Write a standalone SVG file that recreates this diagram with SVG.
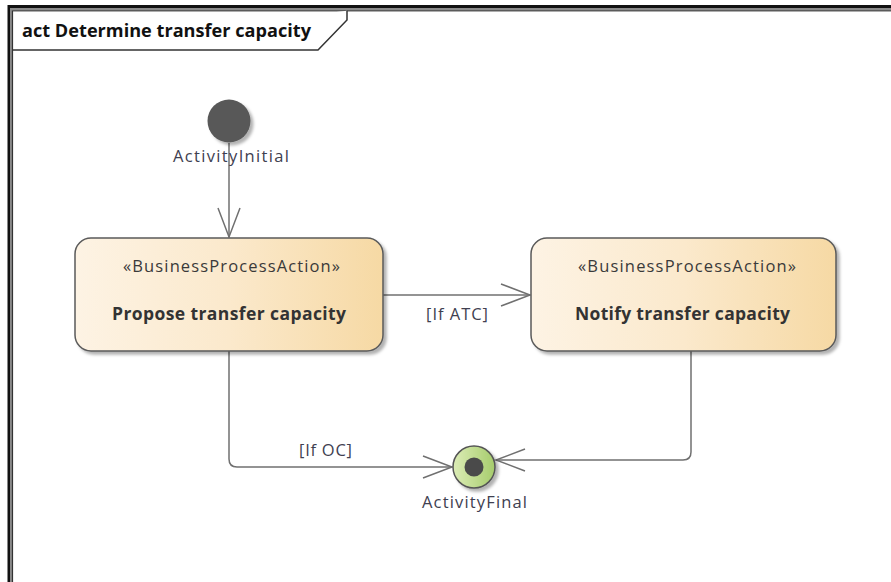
<svg xmlns="http://www.w3.org/2000/svg" width="891" height="582" viewBox="0 0 891 582">
<style>
.frame-outer{fill:none;stroke:#111;stroke-width:3}
.frame-mid{fill:none;stroke:#8a8a8a;stroke-width:2}
.frame-inner{fill:none;stroke:#333;stroke-width:1.2}
.title{font-family:"Open Sans","Liberation Sans",sans-serif;font-weight:bold;font-size:17.5px;fill:#111}
.action{fill:url(#actGrad);stroke:#5a5a5a;stroke-width:1.5;filter:url(#shadow)}
.stereo{font-family:"Open Sans","Liberation Sans",sans-serif;font-size:16.5px;fill:#3a3a3a}
.aname{font-family:"Open Sans","Liberation Sans",sans-serif;font-weight:bold;font-size:17.5px;fill:#333}
.label{font-family:"Open Sans","Liberation Sans",sans-serif;font-size:16.5px;fill:#404050}
.edge{fill:none;stroke:#707070;stroke-width:1.5}
</style>
<defs>
<linearGradient id="actGrad" x1="0" y1="0" x2="1" y2="0">
<stop offset="0" stop-color="#fdf3e4"/>
<stop offset="0.5" stop-color="#fbe9cc"/>
<stop offset="1" stop-color="#f6d9a4"/>
</linearGradient>
<linearGradient id="finGrad" x1="0" y1="0" x2="1" y2="0">
<stop offset="0" stop-color="#dcecb6"/>
<stop offset="1" stop-color="#a6cc6c"/>
</linearGradient>
<filter id="shadow" x="-10%" y="-10%" width="125%" height="130%">
<feDropShadow dx="3" dy="3" stdDeviation="1.5" flood-color="#000" flood-opacity="0.3"/>
</filter>
<marker id="open" markerUnits="userSpaceOnUse" markerWidth="34" markerHeight="28" refX="30" refY="12" orient="auto">
<path d="M1,1 L30,12 L1,23" fill="none" stroke="#707070" stroke-width="1.5"/>
</marker>
</defs>

<g id="frame">
<rect class="frame-outer" x="9" y="6.5" width="900" height="600"/>
<rect class="frame-mid" x="11" y="9" width="900" height="600"/>
<rect class="frame-inner" x="12.5" y="10.8" width="900" height="600"/>
<path d="M12.5,50 L318,50 L347,20 L347,10.8" fill="#fff" stroke="#333" stroke-width="1.5"/>
<text class="title" x="22" y="37" textLength="289" lengthAdjust="spacingAndGlyphs">act Determine transfer capacity</text>
</g>

<g id="connectors">
<path class="edge" d="M229,143 L229,237" marker-end="url(#open)"/>
<path class="edge" d="M383,295 L530,295" marker-end="url(#open)"/>
<path class="edge" d="M229,351 L229,459 Q229,467 237,467 L452,467" marker-end="url(#open)"/>
<path class="edge" d="M691,351 L691,452 Q691,460 683,460 L496,460" marker-end="url(#open)"/>
<text class="label" x="426" y="320" textLength="62">[If ATC]</text>
<text class="label" x="299" y="456" textLength="53">[If OC]</text>
</g>

<g id="initial">
<circle cx="229" cy="121" r="21.5" fill="#595959" filter="url(#shadow)"/>
<text class="label" x="173" y="162" textLength="116">ActivityInitial</text>
</g>

<g id="propose">
<rect class="action" x="75" y="238" width="308" height="113" rx="16" ry="16"/>
<text class="stereo" x="123" y="272" textLength="217">«BusinessProcessAction»</text>
<text class="aname" x="112" y="320" textLength="234">Propose transfer capacity</text>
</g>

<g id="notify">
<rect class="action" x="531" y="238" width="305" height="113" rx="16" ry="16"/>
<text class="stereo" x="578" y="272" textLength="218">«BusinessProcessAction»</text>
<text class="aname" x="575" y="320" textLength="215">Notify transfer capacity</text>
</g>

<g id="final">
<circle cx="474" cy="467" r="21" fill="url(#finGrad)" stroke="#555" stroke-width="1.5" filter="url(#shadow)"/>
<circle cx="474" cy="467" r="9.5" fill="#4a4a4a"/>
<text class="label" x="422" y="508" textLength="105">ActivityFinal</text>
</g>
</svg>
